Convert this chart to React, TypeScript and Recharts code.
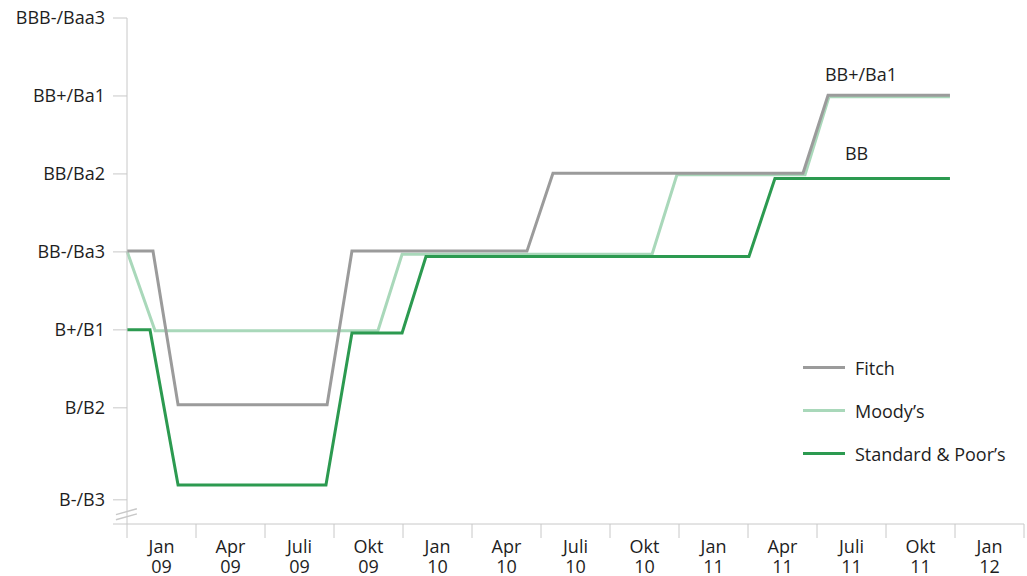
import React from "react";
import {
  LineChart,
  Line,
  XAxis,
  YAxis,
  ReferenceLine,
  ReferenceDot,
} from "recharts";

// ─── Data ─────────────────────────────────────────────────────────────────────

// rating scale: 0 = B-/B3 ... 6 = BBB-/Baa3 (the B-/B3 tick sits a bit below its step)
const ratingLabels = ["B-/B3", "B/B2", "B+/B1", "BB-/Ba3", "BB/Ba2", "BB+/Ba1", "BBB-/Baa3"];
const ratingTicks = [-0.49, -0.18, 1, 2, 3, 4, 5, 6];

// x = months since Jan 2009
const quarterNames = ["Jan", "Apr", "Juli", "Okt"];
const yearLabels = ["09", "10", "11", "12"];
const quarterTicks = [0, 3, 6, 9, 12, 15, 18, 21, 24, 27, 30, 33, 36, 39];

const fitchMonths = [0, 1.13, 2.22, 8.7, 9.78, 17.39, 18.52, 29.39, 30.48, 35.78];
const fitchLevels = [3.01, 3.01, 1.04, 1.04, 3.01, 3.01, 4.01, 4.01, 5.01, 5.01];

const moodysMonths = [0, 1.22, 10.91, 11.96, 22.83, 23.91, 29.48, 30.52, 35.78];
const moodysLevels = [3.01, 1.99, 1.99, 2.97, 2.97, 3.99, 3.99, 4.99, 4.99];

const spMonths = [0, 1.0, 2.22, 8.65, 9.78, 11.96, 13.0, 27.04, 28.17, 35.78];
const spLevels = [2.0, 2.0, 0.01, 0.01, 1.96, 1.96, 2.94, 2.94, 3.94, 3.94];

const toPoints = (months: number[], levels: number[]) =>
  months.map((m, i) => ({ m, v: levels[i] }));

const series = [
  { name: "Fitch", color: "#9b9b9b", data: toPoints(fitchMonths, fitchLevels) },
  { name: "Moody’s", color: "#a9d8ba", data: toPoints(moodysMonths, moodysLevels) },
  { name: "Standard & Poor’s", color: "#2c9a50", data: toPoints(spMonths, spLevels) },
];

// ─── Styles ───────────────────────────────────────────────────────────────────

const FONT = "'Open Sans', 'Noto Sans', sans-serif";
const FS = 18;
const TEXT = "#1e1e1e";
const AXIS = "#c8c8c8";

const yLabel = (v: number) => {
  if (v === -0.18) return ratingLabels[0];
  if (v < 0) return "";
  return ratingLabels[v];
};

const QuarterTick = (props: any) => {
  const { x, y, index } = props;
  if (index >= quarterTicks.length - 1) return null;
  const q = quarterNames[index % 4];
  const yr = yearLabels[Math.floor(index / 4)];
  return (
    <g>
      <text x={x + 34.5} y={y + 15} textAnchor="middle" fill={TEXT} fontSize={FS} fontFamily={FONT}>
        {q}
      </text>
      <text x={x + 34.5} y={y + 35} textAnchor="middle" fill={TEXT} fontSize={FS} fontFamily={FONT}>
        {yr}
      </text>
    </g>
  );
};

const LegendBox = () => (
  <div
    style={{
      position: "absolute",
      left: 803,
      top: 346,
      fontFamily: FONT,
      fontSize: FS,
      color: TEXT,
    }}
  >
    {series.map((s) => (
      <div key={s.name} style={{ display: "flex", alignItems: "center", height: 43 }}>
        <div style={{ width: 42, height: 3, background: s.color, marginRight: 10 }} />
        <span>{s.name}</span>
      </div>
    ))}
  </div>
);

export default function App() {
  return (
    <div style={{ position: "absolute", left: 0, top: 0, width: 1027, height: 576, background: "#fff" }}>
      <LineChart width={1027} height={576} margin={{ top: 18, right: 3, left: 0, bottom: 0 }}>
        <XAxis
          type="number"
          dataKey="m"
          domain={[0, 39]}
          ticks={quarterTicks}
          interval={0}
          height={52}
          tickSize={14}
          tickMargin={0}
          stroke={AXIS}
          tickLine={{ stroke: AXIS }}
          tick={<QuarterTick />}
        />
        <YAxis
          type="number"
          domain={[-0.49, 6]}
          ticks={ratingTicks}
          interval={0}
          width={127}
          tickSize={14}
          tickMargin={8}
          stroke={AXIS}
          tickLine={{ stroke: AXIS }}
          tickFormatter={yLabel}
          tick={{ fill: TEXT, fontSize: FS, fontFamily: FONT }}
        />
        {/* axis break marks */}
        <ReferenceLine
          segment={[{ x: -0.48, y: -0.37 }, { x: 0.43, y: -0.295 }]}
          stroke={AXIS}
          strokeWidth={1.5}
          ifOverflow="visible"
        />
        <ReferenceLine
          segment={[{ x: -0.48, y: -0.436 }, { x: 0.43, y: -0.36 }]}
          stroke={AXIS}
          strokeWidth={1.5}
          ifOverflow="visible"
        />
        <Line
          data={series[1].data}
          dataKey="v"
          name={series[1].name}
          stroke={series[1].color}
          strokeWidth={3}
          dot={false}
          type="linear"
          isAnimationActive={false}
        />
        <Line
          data={series[2].data}
          dataKey="v"
          name={series[2].name}
          stroke={series[2].color}
          strokeWidth={3}
          dot={false}
          type="linear"
          isAnimationActive={false}
        />
        <Line
          data={series[0].data}
          dataKey="v"
          name={series[0].name}
          stroke={series[0].color}
          strokeWidth={3}
          dot={false}
          type="linear"
          isAnimationActive={false}
        />
        <ReferenceDot
          x={31.91}
          y={5.28}
          r={0}
          fill="none"
          stroke="none"
          ifOverflow="visible"
          label={{ value: "BB+/Ba1", position: "center", fill: TEXT, fontSize: FS, fontFamily: FONT }}
        />
        <ReferenceDot
          x={31.72}
          y={4.26}
          r={0}
          fill="none"
          stroke="none"
          ifOverflow="visible"
          label={{ value: "BB", position: "center", fill: TEXT, fontSize: FS, fontFamily: FONT }}
        />
      </LineChart>
      <LegendBox />
    </div>
  );
}
